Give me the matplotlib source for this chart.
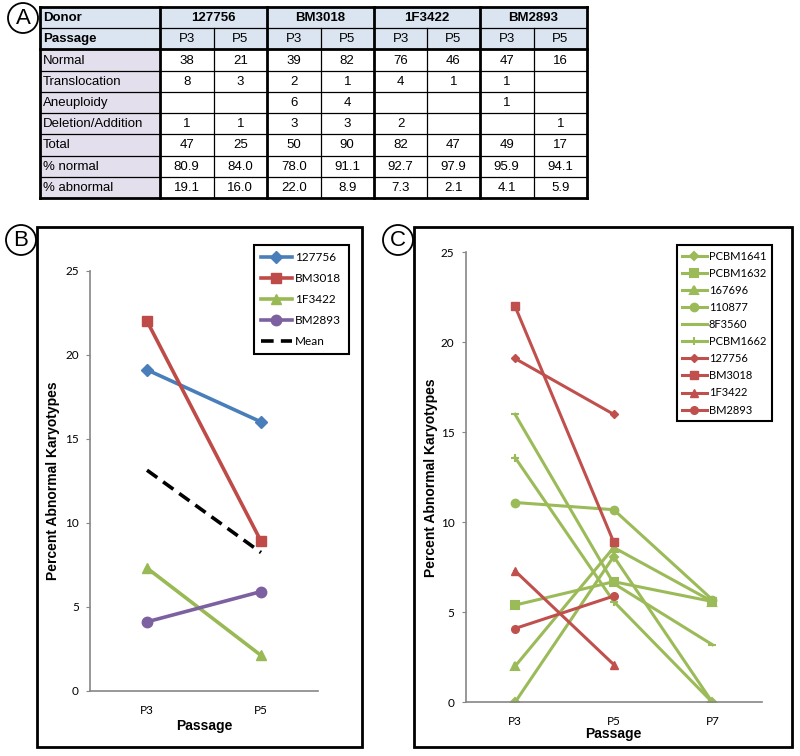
import numpy as np
import matplotlib.pyplot as plt
from matplotlib.patches import Rectangle, Circle

plt.rcParams['font.family'] = ['Liberation Sans', 'DejaVu Sans']

# ---- data ----
donors = ['127756', 'BM3018', '1F3422', 'BM2893']
passages = ['P3', 'P5']
row_labels = ['Normal', 'Translocation', 'Aneuploidy', 'Deletion/Addition',
              'Total', '% normal', '% abnormal']
normal = [38, 21, 39, 82, 76, 46, 47, 16]
translocation = [8, 3, 2, 1, 4, 1, 1, None]
aneuploidy = [None, None, 6, 4, None, None, 1, None]
del_add = [1, 1, 3, 3, 2, None, None, 1]
total = [47, 25, 50, 90, 82, 47, 49, 17]
pct_normal = [80.9, 84.0, 78.0, 91.1, 92.7, 97.9, 95.9, 94.1]
pct_abnormal = [19.1, 16.0, 22.0, 8.9, 7.3, 2.1, 4.1, 5.9]

b_cats = ['P3', 'P5']
c_cats = ['P3', 'P5', 'P7']
green_names = ['PCBM1641', 'PCBM1632', '167696', '110877', '8F3560', 'PCBM1662']
green_vals = [[0.0, 8.1, 0.0],
              [5.4, 6.7, 5.6],
              [2.0, 8.6, 5.6],
              [11.1, 10.7, 5.7],
              [16.0, 6.6, 3.2],
              [13.6, 5.6, 0.0]]
green_markers = ['D', 's', '^', 'o', '_', '+']

donor_markers = ['D', 's', '^', 'o']
b_colors = ['#4a7ebb', '#be4b48', '#98b954', '#7d60a0']
RED = '#c0504d'
GREEN = '#9bbb59'
AXC = '#868686'

W, H = 800, 756
fig = plt.figure(figsize=(W / 100, H / 100), dpi=100)

# overlay in pixel coordinates for table, boxes and panel letters
ov = fig.add_axes([0, 0, 1, 1])
ov.set_xlim(0, W)
ov.set_ylim(H, 0)
ov.axis('off')

# ---- panel A: table ----
col_x = [40, 160, 213.5, 267, 320.5, 374, 427, 480, 533.5, 587]
row_y = np.linspace(7, 198, 10)
for r in range(9):
    y0, y1 = row_y[r], row_y[r + 1]
    if r < 2:
        ov.add_patch(Rectangle((col_x[0], y0), col_x[-1] - col_x[0], y1 - y0,
                               fc='#dbe5f1', ec='none'))
    else:
        ov.add_patch(Rectangle((col_x[0], y0), col_x[1] - col_x[0], y1 - y0,
                               fc='#e4dfec', ec='none'))

thin, thick = 0.9, 2.0
for i, y in enumerate(row_y):
    lw = thick if i in (0, 2, 9) else thin
    ov.plot([col_x[0], col_x[-1]], [y, y], color='black', lw=lw)
for i, x in enumerate(col_x):
    if i in (0, 1, 3, 5, 7, 9):
        ov.plot([x, x], [row_y[0], row_y[-1]], color='black', lw=thick)
    else:
        ov.plot([x, x], [row_y[1], row_y[-1]], color='black', lw=thin)

fs = 9.5
def ymid(r):
    return (row_y[r] + row_y[r + 1]) / 2 + 0.5

ov.text(col_x[0] + 3, ymid(0), 'Donor', fontsize=fs, fontweight='bold', va='center')
ov.text(col_x[0] + 3, ymid(1), 'Passage', fontsize=fs, fontweight='bold', va='center')
for g, d in enumerate(donors):
    xc = (col_x[1 + 2 * g] + col_x[3 + 2 * g]) / 2
    ov.text(xc, ymid(0), d, fontsize=fs, fontweight='bold', ha='center', va='center')
    for k, p in enumerate(passages):
        xs = (col_x[1 + 2 * g + k] + col_x[2 + 2 * g + k]) / 2
        ov.text(xs, ymid(1), p, fontsize=fs, ha='center', va='center')

rows = [normal, translocation, aneuploidy, del_add, total, pct_normal, pct_abnormal]
for r, (lab, vals) in enumerate(zip(row_labels, rows)):
    ov.text(col_x[0] + 3, ymid(r + 2), lab, fontsize=fs, va='center')
    for c, v in enumerate(vals):
        if v is None:
            continue
        s = f'{v:.1f}' if isinstance(v, float) else str(v)
        xs = (col_x[1 + c] + col_x[2 + c]) / 2
        ov.text(xs, ymid(r + 2), s, fontsize=fs, ha='center', va='center')

# panel letters and boxes
for lab, cx, cy in [('A', 23, 18), ('B', 21, 240), ('C', 398, 240)]:
    ov.add_patch(Circle((cx, cy), 15, fc='white', ec='black', lw=1.3))
    ov.text(cx, cy + 1, lab, fontsize=16, ha='center', va='center')
ov.add_patch(Rectangle((37, 227), 325, 520, fc='none', ec='black', lw=2))
ov.add_patch(Rectangle((414, 227), 378, 520, fc='none', ec='black', lw=2))


def style_axis(ax, ncat, cats):
    ax.set_xlim(-0.5, ncat - 0.5)
    ax.set_ylim(0, 25)
    ax.set_yticks(np.arange(0, 26, 5))
    ax.set_xticks(range(ncat))
    ax.set_xticklabels(cats)
    for s in ('top', 'right'):
        ax.spines[s].set_visible(False)
    for s in ('left', 'bottom'):
        ax.spines[s].set_color(AXC)
        ax.spines[s].set_linewidth(1.2)
    ax.tick_params(axis='y', length=3, color=AXC, labelsize=8.5, pad=5)
    ax.tick_params(axis='x', length=0, labelsize=8.5, pad=10)
    for t in ax.get_xticklabels() + ax.get_yticklabels():
        t.set_family(['Lato', 'DejaVu Sans'])
    ax.set_xlabel('Passage', fontsize=10, fontweight='bold')
    ax.set_ylabel('Percent Abnormal Karyotypes', fontsize=10, fontweight='bold')


# ---- panel B ----
axb = fig.add_axes([90 / W, 1 - 690.7 / H, 228 / W, 420 / H])
xb = np.arange(len(b_cats))
for g, d in enumerate(donors):
    ys = pct_abnormal[2 * g:2 * g + 2]
    ms = 6 if donor_markers[g] == 'D' else 7.5
    axb.plot(xb, ys, color=b_colors[g], lw=2.6, marker=donor_markers[g],
             markersize=ms, label=d)
mean_b = np.mean(np.array(pct_abnormal).reshape(4, 2), axis=0)
axb.plot(xb, mean_b, color='black', lw=2.6, dashes=(3.5, 2), label='Mean')
style_axis(axb, 2, b_cats)
axb.xaxis.set_label_coords(0.5, -0.068)
axb.yaxis.set_label_coords(-0.13, 0.5)
lg = axb.legend(loc='upper left', bbox_to_anchor=(254 / W, 1 - 245 / H),
                bbox_transform=fig.transFigure, fontsize=8.5, handlelength=2.6,
                labelspacing=0.85, borderpad=0.6, handletextpad=0.3,
                borderaxespad=0, fancybox=False, framealpha=1)
lg.get_frame().set_edgecolor('black')
lg.get_frame().set_linewidth(1.5)
for t in lg.get_texts():
    t.set_family(['Lato', 'DejaVu Sans'])

# ---- panel C ----
axc = fig.add_axes([465.7 / W, 1 - 702.3 / H, 296 / W, 450 / H])
xc = np.arange(len(c_cats))
for name, vals, m in zip(green_names, green_vals, green_markers):
    ms = 4.5 if m == 'D' else (6 if m in ('_', '+') else 5.5)
    axc.plot(xc, vals, color=GREEN, lw=2.2, marker=m, markersize=ms,
             markeredgewidth=1.5, label=name)
for g, d in enumerate(donors):
    ys = pct_abnormal[2 * g:2 * g + 2]
    ms = 4.5 if donor_markers[g] == 'D' else 5.5
    axc.plot(xc[:2], ys, color=RED, lw=2.2, marker=donor_markers[g],
             markersize=ms, label=d)
style_axis(axc, 3, c_cats)
axc.xaxis.set_label_coords(0.5, -0.055)
axc.yaxis.set_label_coords(-0.095, 0.5)
lg = axc.legend(loc='upper left', bbox_to_anchor=(676.7 / W, 1 - 245 / H),
                bbox_transform=fig.transFigure, fontsize=8, handlelength=2.2,
                labelspacing=0.55, borderpad=0.5, handletextpad=0.2,
                borderaxespad=0, fancybox=False, framealpha=1)
lg.get_frame().set_edgecolor('black')
lg.get_frame().set_linewidth(1.5)
for t in lg.get_texts():
    t.set_family(['Lato', 'DejaVu Sans'])

fig.savefig('out.png', dpi=100)
